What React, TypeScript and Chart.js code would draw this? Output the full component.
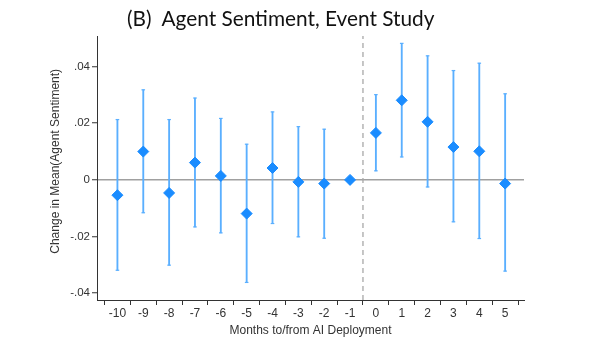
import React, { useEffect, useRef } from 'react';
import { Chart, registerables } from 'chart.js';

Chart.register(...registerables);

// ---- data ----
const months = [-10, -9, -8, -7, -6, -5, -4, -3, -2, -1, 0, 1, 2, 3, 4, 5];
const estimates = [-0.0054, 0.01, -0.0046, 0.0061, 0.0014, -0.0119, 0.0042, -0.0007, -0.0013, 0, 0.0166, 0.0281, 0.0205, 0.0116, 0.0101, -0.0013];
const ciLower = [-0.0319, -0.0116, -0.0301, -0.0166, -0.0187, -0.0362, -0.0154, -0.0201, -0.0206, null, 0.0032, 0.0081, -0.0025, -0.0148, -0.0207, -0.0322];
const ciUpper = [0.0213, 0.0318, 0.0213, 0.0289, 0.0217, 0.0126, 0.024, 0.0188, 0.0179, null, 0.0301, 0.0482, 0.0438, 0.0386, 0.0412, 0.0304];
const yTicks = [-0.04, -0.02, 0, 0.02, 0.04];
const yTickLabels = ['-.04', '-.02', '0', '.02', '.04'];
const deploymentLine = -0.5;
const xMin = -10.79;
const xMax = 5.73;
const yMin = -0.0424;
const yMax = 0.0508;

const titleText = '(B)  Agent Sentiment, Event Study';
const xTitle = 'Months to/from AI Deployment';
const yTitle = 'Change in Mean(Agent Sentiment)';

const FONT = '"Liberation Sans", Arial, Helvetica, sans-serif';
const POINT_COLOR = '#1a8cff';
const BAR_COLOR = '#5aafff';
const AXIS_COLOR = '#333333';

export default function App() {
  const canvasRef = useRef<HTMLCanvasElement | null>(null);

  useEffect(() => {
    const canvas = canvasRef.current;
    if (!canvas) return;

    const caps: { x: number; y: number }[] = [];
    months.forEach((m, i) => {
      if (ciLower[i] != null) caps.push({ x: m, y: ciLower[i] as number });
      if (ciUpper[i] != null) caps.push({ x: m, y: ciUpper[i] as number });
    });

    const chart = new Chart(canvas, {
      type: 'scatter',
      data: {
        datasets: [
          {
            type: 'line',
            data: [
              { x: deploymentLine, y: yMin },
              { x: deploymentLine, y: yMax },
            ],
            borderColor: '#a8a8a8',
            borderDash: [5, 4],
            borderWidth: 1.3,
            pointRadius: 0,
            order: 4,
          } as any,
          {
            type: 'bar',
            data: months.map((m, i) => ({
              x: m,
              y: ciLower[i] == null ? null : [ciLower[i], ciUpper[i]],
            })),
            backgroundColor: BAR_COLOR,
            borderWidth: 0,
            barThickness: 1.2,
            order: 3,
          } as any,
          {
            type: 'scatter',
            data: caps,
            pointStyle: 'line',
            pointRadius: 1.8,
            borderColor: BAR_COLOR,
            borderWidth: 1.2,
            order: 2,
          } as any,
          {
            type: 'scatter',
            data: months.map((m, i) => ({ x: m, y: estimates[i] })),
            pointStyle: 'rectRot',
            pointRadius: 5.5,
            backgroundColor: POINT_COLOR,
            borderColor: POINT_COLOR,
            borderWidth: 1,
            order: 1,
          } as any,
        ],
      },
      options: {
        responsive: false,
        animation: false,
        layout: { padding: { left: 48, right: 86, top: 36, bottom: 16 } },
        plugins: {
          legend: { display: false },
          tooltip: { enabled: false },
          title: { display: false },
        },
        scales: {
          x: {
            type: 'linear',
            min: xMin,
            max: xMax,
            offset: false,
            afterBuildTicks: (s: any) => {
              s.ticks = months.map((v) => ({ value: v }));
            },
            afterFit: (s: any) => {
              s.height = 38;
            },
            grid: {
              drawOnChartArea: false,
              tickLength: 5,
              tickColor: AXIS_COLOR,
              color: AXIS_COLOR,
              tickWidth: 1,
            },
            border: { display: true, color: AXIS_COLOR, width: 1 },
            ticks: {
              color: AXIS_COLOR,
              font: { family: FONT, size: 12 },
              padding: 1,
              maxRotation: 0,
              autoSkip: false,
              callback: (v: any) => String(v),
            },
            title: {
              display: true,
              text: xTitle,
              color: AXIS_COLOR,
              font: { family: FONT, size: 12 },
              padding: { top: 0, bottom: 0 },
            },
          },
          y: {
            type: 'linear',
            min: yMin,
            max: yMax,
            afterBuildTicks: (s: any) => {
              s.ticks = yTicks.map((v) => ({ value: v }));
            },
            afterFit: (s: any) => {
              s.width = 49;
            },
            grid: {
              drawOnChartArea: true,
              color: (ctx: any) =>
                ctx.tick && ctx.tick.value === 0 ? '#a0a0a0' : 'rgba(0,0,0,0)',
              lineWidth: 1.5,
              tickLength: 5,
              tickColor: AXIS_COLOR,
              tickWidth: 1,
            },
            border: { display: true, color: AXIS_COLOR, width: 1 },
            ticks: {
              color: AXIS_COLOR,
              font: { family: FONT, size: 11.5 },
              padding: 2,
              callback: (v: any) => {
                const idx = yTicks.findIndex((t) => Math.abs(t - v) < 1e-9);
                return idx >= 0 ? yTickLabels[idx] : '';
              },
            },
            title: {
              display: true,
              text: '    ' + yTitle,
              color: AXIS_COLOR,
              font: { family: FONT, size: 12 },
              padding: { top: 0, bottom: 0 },
            },
          },
        },
      } as any,
    });

    return () => {
      chart.destroy();
    };
  }, []);

  return (
    <div style={{ position: 'absolute', left: 0, top: 0, width: 610, height: 354, background: '#fff' }}>
      <canvas ref={canvasRef} width={610} height={354} style={{ display: 'block' }} />
      <div
        style={{
          position: 'absolute',
          left: 127,
          top: 6,
          fontFamily: 'Lato, "Open Sans", sans-serif',
          fontSize: 20.8,
          lineHeight: '24px',
          whiteSpace: 'pre',
          color: '#111',
        }}
      >
        {titleText}
      </div>
    </div>
  );
}
